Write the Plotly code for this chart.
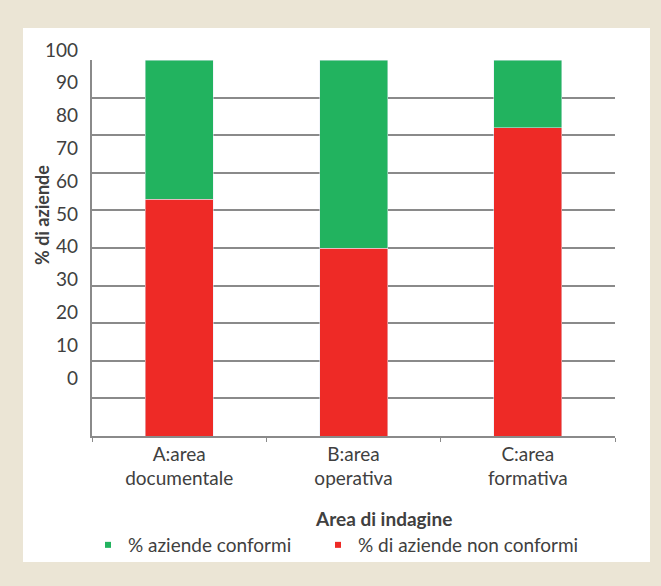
import plotly.graph_objects as go

categories = ["A:area<br>documentale", "B:area<br>operativa", "C:area<br>formativa"]
non_conformi = [63, 50, 82]
conformi = [37, 50, 18]
tick_labels = ["0", "10", "20", "30", "40", "50", "60", "70", "80", "90", "100"]
tick_values = [0, 10, 20, 30, 40, 50, 60, 70, 80, 90, 100]

GREEN = "#22B35F"
RED = "#EE2A26"
TXT = "#404040"
FONT = "Lato"

fig = go.Figure()
fig.add_trace(go.Bar(x=categories, y=non_conformi, marker_color=RED, showlegend=False,
                     name="% di aziende non conformi"))
fig.add_trace(go.Bar(x=categories, y=conformi, marker_color=GREEN, showlegend=False,
                     name="% aziende conformi"))
# legend entries (small square symbols)
fig.add_trace(go.Scatter(x=[None], y=[None], mode="markers", yaxis="y2",
                         marker=dict(symbol="square", size=6, color=GREEN),
                         name="% aziende conformi", legend="legend"))
fig.add_trace(go.Scatter(x=[None], y=[None], mode="markers", yaxis="y2",
                         marker=dict(symbol="square", size=6, color=RED),
                         name="% di aziende non conformi", legend="legend2"))

W, H = 661, 586
L, R, T, B = 92, 46, 40, 150
ph = H - T - B
pw = W - L - R

def px_x(p):
    return (p - L) / pw

def px_y(p):
    return (H - B - p) / ph

legend_common = dict(
    orientation="h", xanchor="left", y=px_y(545), yanchor="middle",
    font=dict(size=19, color=TXT, family=FONT),
    bgcolor="rgba(0,0,0,0)", itemwidth=30,
)

fig.update_layout(
    width=W, height=H,
    margin=dict(l=L, r=R, t=T, b=B),
    paper_bgcolor="#EBE5D5",
    plot_bgcolor="rgba(0,0,0,0)",
    barmode="stack",
    bargap=0.61,
    font=dict(family=FONT, color=TXT),
    xaxis=dict(
        showline=True, linecolor="#8a8a8a", linewidth=1.5,
        ticks="outside", tickson="boundaries", ticklen=4, tickcolor="#8a8a8a",
        tickfont=dict(size=19, color=TXT, family=FONT),
        showgrid=False,
    ),
    yaxis=dict(
        domain=[0, px_y(60)],
        range=[0, 100], dtick=10,
        showgrid=True, gridcolor="#8a8a8a", gridwidth=1.5,
        showline=True, linecolor="#8a8a8a", linewidth=1.5,
        showticklabels=False, zeroline=False,
    ),
    yaxis2=dict(
        domain=[0, 1], anchor="free", position=0,
        range=[-17.69, 103.06],
        tickvals=tick_values, ticktext=tick_labels,
        showgrid=False, zeroline=False, showline=False,
        tickfont=dict(size=19, color=TXT, family=FONT),
        ticks="", ticklabelstandoff=14,
    ),
    legend=dict(x=px_x(88), **legend_common),
    legend2=dict(x=px_x(318), **legend_common),
    shapes=[dict(type="rect", xref="paper", yref="paper", layer="below",
                 x0=px_x(23), x1=px_x(650), y0=px_y(562), y1=px_y(28),
                 fillcolor="white", line=dict(width=0))],
    annotations=[
        dict(text="<b>% di aziende</b>", textangle=-90, xref="paper", yref="paper",
             x=px_x(42), y=px_y(215), xanchor="center", yanchor="middle", showarrow=False,
             font=dict(size=18, color=TXT, family=FONT)),
        dict(text="<b>Area di indagine</b>", xref="paper", yref="paper",
             x=px_x(383), y=px_y(518), xanchor="center", yanchor="middle", showarrow=False,
             font=dict(size=19, color=TXT, family=FONT)),
    ],
)

fig.write_html("out.html")
